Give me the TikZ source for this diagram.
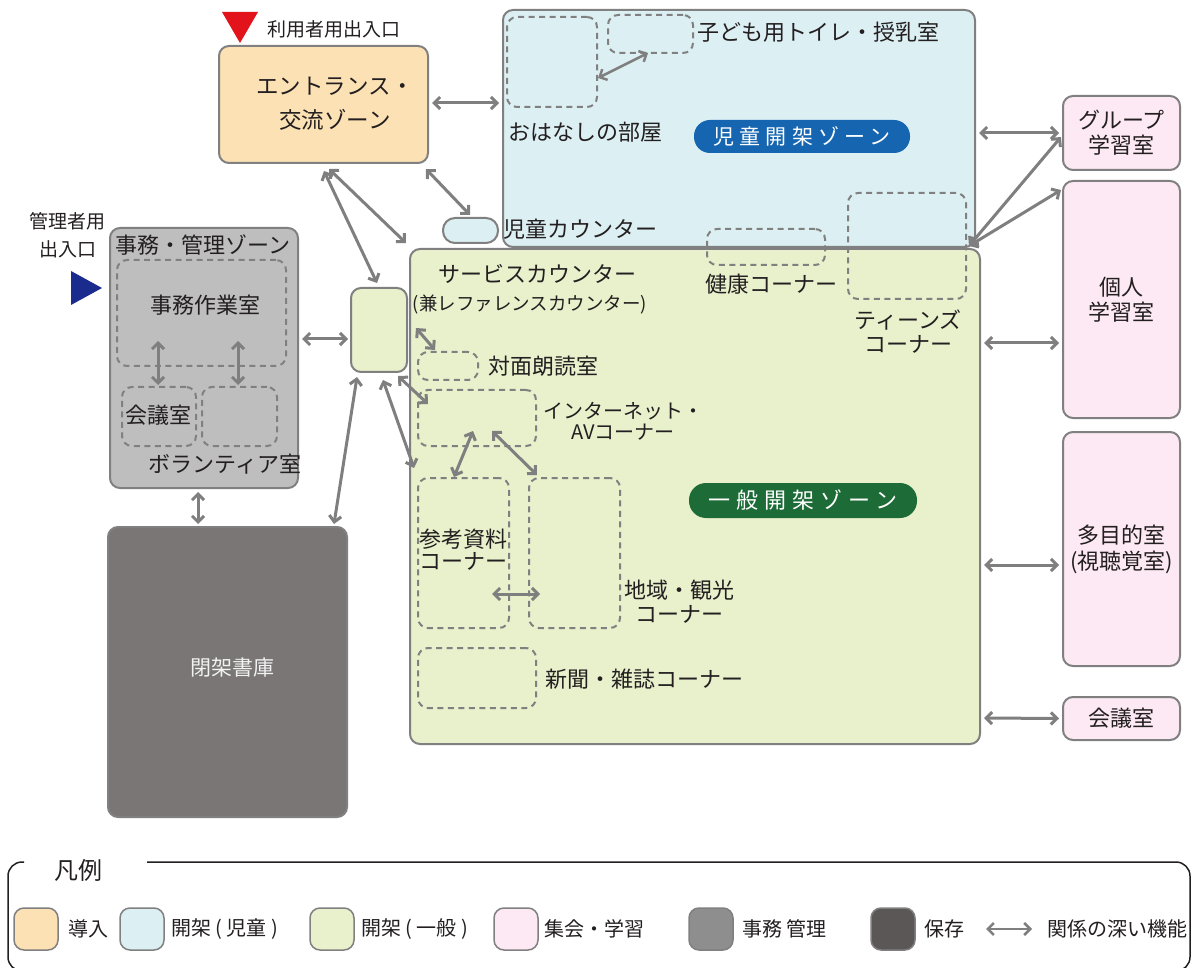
\documentclass[tikz,border=0pt]{standalone}
\usepackage{fontspec}
\setmainfont{Noto Sans CJK JP}
\usetikzlibrary{arrows.meta,calc}
\definecolor{bord}{HTML}{808080}
\definecolor{peach}{HTML}{FBE1B4}
\definecolor{lblue}{HTML}{DCEFF3}
\definecolor{lgreen}{HTML}{E8F0CC}
\definecolor{lpink}{HTML}{FCE9F3}
\definecolor{admgray}{HTML}{BEBEBE}
\definecolor{stkgray}{HTML}{7A7676}
\definecolor{leggray}{HTML}{8E8E8E}
\definecolor{legdark}{HTML}{5B5757}
\definecolor{pillblue}{HTML}{1565B0}
\definecolor{pillgreen}{HTML}{1D6B36}
\definecolor{arrgray}{HTML}{7F7F7F}
\definecolor{txt}{HTML}{231F20}
\definecolor{entred}{HTML}{E3131B}
\definecolor{entblue}{HTML}{1A2B8E}
\newcommand{\myfs}[2]{\fontsize{#1}{#2}\selectfont}
\tikzset{
  zone/.style={draw=bord, line width=2pt, rounded corners=10pt, inner sep=0pt},
  dbox/.style={draw=bord, line width=2pt, dash pattern=on 6pt off 4.5pt, rounded corners=10pt, inner sep=0pt},
  link/.style={draw=arrgray, line width=3pt, <->, >={Straight Barb[length=6pt,width=12pt]}},
  lbl/.style={inner sep=0pt, text=txt, align=center, font=\myfs{22}{24}},
  pill/.style={inner sep=0pt, text=white},
  swatch/.style={draw=bord, line width=1.5pt, rounded corners=10pt, minimum width=44pt, minimum height=42pt, inner sep=0pt},
  legtxt/.style={inner sep=0pt, text=txt, anchor=west, font=\myfs{20}{24}},
  room/.style={zone, fill=lpink, minimum width=117pt, align=center, text=txt, font=\myfs{22}{25}},
}
\begin{document}
\begin{tikzpicture}[x=1pt,y=-1pt]
\useasboundingbox (0,0) rectangle (1192,968);

% ---- zones ----
\node[zone, fill=lblue, minimum width=472pt, minimum height=237pt] (cz) at (739,128.5) {};
\node[zone, fill=lgreen, minimum width=570pt, minimum height=495pt] (gz) at (695,496.5) {};
\node[zone, fill=peach, minimum width=209pt, minimum height=117pt] (ent) at (323.5,104.5) {};
\node[lbl, font=\myfs{22.5}{34}] (entl) at (335,104) {エントランス・\\交流ゾーン};
\node[zone, fill=lgreen, minimum width=56pt, minimum height=84pt] (sc) at (379,330) {};
\node[zone, fill=lblue, rounded corners=12pt, minimum width=55pt, minimum height=25pt] (jc) at (470.5,230.5) {};
\node[zone, fill=admgray, minimum width=188pt, minimum height=260pt] (adm) at (204,358) {};
\node[zone, fill=stkgray, minimum width=239pt, minimum height=290pt] (stk) at (227.5,672) {};
\node[lbl, text=white!95!black, font=\myfs{21}{24}] (stkl) at (232,668) {閉架書庫};

% right rooms
\node[room, minimum height=74pt] (grp) at (1121.5,133) {グループ\\学習室};
\node[room, minimum height=237pt] (koj) at (1121.5,299.5) {個人\\学習室};
\node[room, minimum height=234pt, font=\myfs{22}{26}] (tam) at (1121.5,549) {多目的室\\(視聴覚室)};
\node[room, minimum height=43pt] (kaiR) at (1121.5,718.5) {会議室};

% ---- dashed sub-areas ----
\node[dbox, minimum width=90pt, minimum height=90pt] (ohan) at (552,62) {};
\node[dbox, minimum width=85pt, minimum height=38pt] (toi) at (650.5,34) {};
\node[dbox, minimum width=118pt, minimum height=36pt] (hea) at (766,247) {};
\node[dbox, minimum width=118pt, minimum height=106pt] (tee) at (907,246) {};
\node[dbox, minimum width=169pt, minimum height=106pt] (jim) at (201.5,313) {};
\node[dbox, minimum width=74pt, minimum height=59pt] (kaiL) at (159,416.5) {};
\node[dbox, minimum width=75pt, minimum height=59pt] (vol) at (239.5,416.5) {};
\node[dbox, minimum width=60pt, minimum height=28pt] (tai) at (448,366) {};
\node[dbox, minimum width=118pt, minimum height=56pt] (inet) at (477,418) {};
\node[dbox, minimum width=91pt, minimum height=150pt] (ref) at (463.5,553) {};
\node[dbox, minimum width=91pt, minimum height=150pt] (reg) at (574.5,553) {};
\node[dbox, minimum width=118pt, minimum height=60pt] (news) at (477,678) {};

% ---- pills ----
\node[pill, fill=pillblue, rounded corners=16pt, minimum width=216pt, minimum height=33pt, font=\myfs{21}{24}\addfontfeature{LetterSpace=25}] (pb) at (802,136.5) {児童開架ゾーン};
\node[pill, fill=pillgreen, rounded corners=17pt, minimum width=228pt, minimum height=35pt, font=\myfs{22}{24}\addfontfeature{LetterSpace=28}] (pg) at (803,500.5) {一般開架ゾーン};

% ---- labels ----
\node[lbl, font=\myfs{19}{24}] (userent) at (334,29) {利用者用出入口};
\node[lbl, font=\myfs{19}{28}] (adment) at (68,235) {管理者用\\出入口};
\node[lbl, anchor=west] (toil) at (697,32) {子ども用トイレ・授乳室};
\node[lbl, anchor=west] (ohanl) at (508,132) {おはなしの部屋};
\node[lbl, anchor=west] (jcl) at (503,229) {児童カウンター};
\node[lbl] (heal) at (771,284) {健康コーナー};
\node[lbl, font=\myfs{22}{24}] (teel) at (908,332) {ティーンズ\\コーナー};
\node[lbl] (scl1) at (537,274) {サービスカウンター};
\node[lbl, font=\myfs{18.5}{24}] (scl2) at (530,305) {(兼レファレンスカウンター)};
\node[lbl, anchor=west] (tail) at (488,366) {対面朗読室};
\node[lbl, font=\myfs{20}{21}] (inetl) at (623,421) {インターネット・\\AVコーナー};
\node[lbl, font=\myfs{22}{22}] (refl) at (463,550) {参考資料\\コーナー};
\node[lbl] (regl) at (679,602) {地域・観光\\コーナー};
\node[lbl, anchor=west] (newsl) at (545,679) {新聞・雑誌コーナー};
\node[lbl] (adml) at (203,245) {事務・管理ゾーン};
\node[lbl] (jiml) at (205,305) {事務作業室};
\node[lbl] (kaiLl) at (158,415) {会議室};
\node[lbl] (voll) at (225,464) {ボランティア室};

% entrance markers
\fill[entred] (222,12) -- (258,12) -- (240,43) -- cycle;
\fill[entblue] (71,271) -- (102,288) -- (71,305) -- cycle;

% ---- connectors ----
\draw[link] ($(ent.east)+(3,-1.5)$) -- ($(cz.west)+(-3,-25.5)$);
\draw[link] ($(ent.south west)+(106,7)$) -- ($(sc.north)+(-2,-4)$);
\draw[link] ($(ent.south west)+(111,5)$) -- ($(gz.north west)+(-3,-5)$);
\draw[link] ($(ent.south east)+(-3,5)$) -- ($(jc.north)+(-0.5,-2)$);
\draw[link] ($(adm.east)+(3,-19)$) -- ($(sc.west)+(-2,9)$);
\draw[link] ($(adm.south)+(-6,3)$) -- ($(stk.north)+(-29.5,-2)$);
\draw[link] ($(sc.south)+(-22,4)$) -- ($(stk.north east)+(-14,-2)$);
\draw[link] ($(sc.east)+(8,-2)$) -- ($(tai.north west)+(18,-1)$);
\draw[link] ($(sc.south east)+(-10,3)$) -- ($(inet.north west)+(11,15)$);
\draw[link] ($(sc.south)+(4,7)$) -- ($(ref.north west)+(-3,-9)$);
\draw[link] ($(inet.south)+(-4,-16)$) -- ($(ref.north)+(-9.5,0)$);
\draw[link] ($(inet.south)+(15,-16)$) -- ($(reg.north west)+(9,-2)$);
\draw[link] ($(ref.east)+(-18,41)$) -- ($(reg.west)+(12,41)$);
\draw[link, line width=2.5pt] ($(ohan.east)+(0,16)$) -- ($(toi.south)+(-2.5,-1)$);
\draw[link] ($(jim.south)+(-43.5,-26)$) -- ($(kaiL.north)+(-1,-1)$);
\draw[link] ($(jim.south)+(36.5,-26)$) -- ($(vol.north)+(-1.5,-1)$);
\draw[link] ($(cz.east)+(3,4.5)$) -- ($(grp.west)+(-3,0)$);
\draw[link] ($(cz.south east)+(-7,-2)$) -- ($(grp.west)+(-1,4)$);
\draw[link] ($(cz.south east)+(-7,-2)$) -- ($(koj.north west)+(-1,10)$);
\draw[link] ($(gz.east)+(3,-153.5)$) -- ($(koj.west)+(-3,43.5)$);
\draw[link] ($(gz.east)+(3,68.5)$) -- ($(tam.west)+(-3,16)$);
\draw[link] ($(gz.east)+(3,221.5)$) -- ($(kaiR.west)+(-3,0)$);

% ---- legend ----
\draw[line width=1.5pt, txt, rounded corners=14pt] (24,862) -- (8,862) -- (8,971) -- (1190,971) -- (1190,862) -- (147,862);
\node[lbl, font=\myfs{24}{26}] (legt) at (78,870) {凡例};
\node[swatch, fill=peach] (sw1) at (36,929) {};
\node[legtxt] (lt1) at (68,929) {導入};
\node[swatch, fill=lblue] (sw2) at (142,929) {};
\node[legtxt] (lt2) at (171,929) {開架 ( 児童 )};
\node[swatch, fill=lgreen] (sw3) at (332,929) {};
\node[legtxt] (lt3) at (361,929) {開架 ( 一般 )};
\node[swatch, fill=lpink] (sw4) at (516,929) {};
\node[legtxt] (lt4) at (544,929) {集会・学習};
\node[swatch, fill=leggray] (sw5) at (711,929) {};
\node[legtxt] (lt5) at (742,929) {事務 管理};
\node[swatch, fill=legdark] (sw6) at (893,929) {};
\node[legtxt] (lt6) at (924,929) {保存};
\coordinate (la1) at (986,929);
\coordinate (la2) at (1032,929);
\draw[link, line width=2.5pt] (la1) -- (la2);
\node[legtxt] (lt7) at (1047,929) {関係の深い機能};
\end{tikzpicture}
\end{document}
